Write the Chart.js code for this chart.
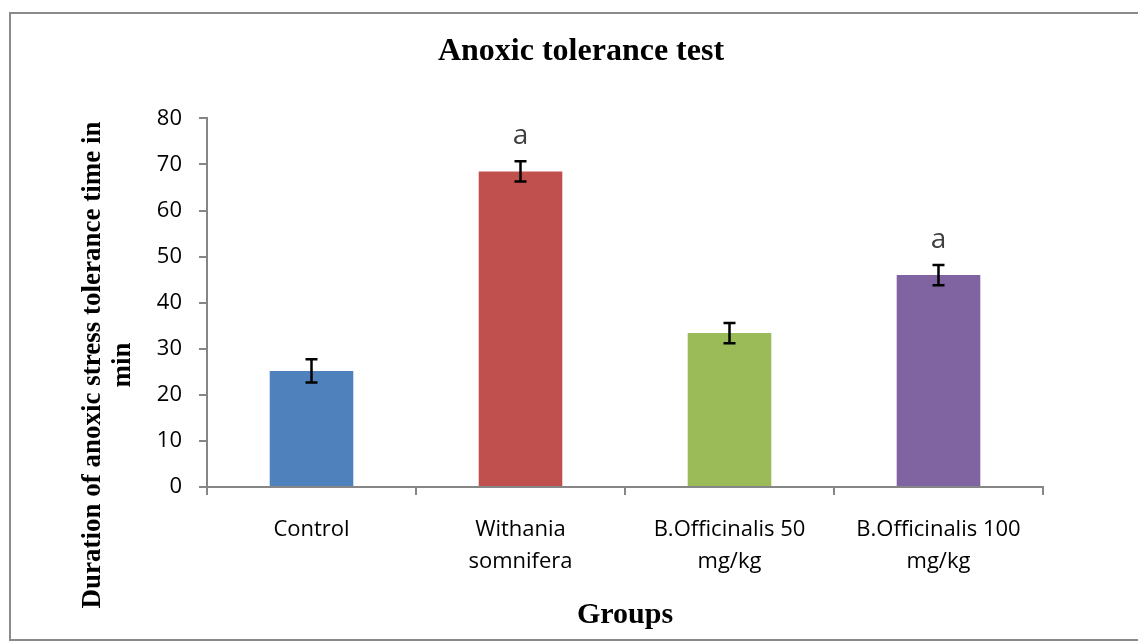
<!DOCTYPE html>
<html>
<head>
<meta charset="utf-8">
<script src="https://cdn.jsdelivr.net/npm/chart.js@4"></script>
<style>
  body { margin: 0; background: #fff; }
  #wrap { position: relative; width: 1138px; height: 643px; }
  #frame { position: absolute; left: 9px; top: 12px; width: 1140px; height: 629px; border: 2px solid #8a8a8a; box-sizing: border-box; pointer-events: none; }
</style>
</head>
<body>
<div id="wrap">
  <canvas id="chart" width="1138" height="643"></canvas>
  <div id="frame"></div>
</div>
<script>
// values
var groups = [["Control"], ["Withania", "somnifera"], ["B.Officinalis 50", "mg/kg"], ["B.Officinalis 100", "mg/kg"]];
var durations = [25.2, 68.5, 33.4, 46.0];
var errors = [2.5, 2.2, 2.2, 2.2];
var marks = ["", "a", "", "a"];
var colors = ["#4F81BD", "#C0504D", "#9BBB59", "#8064A2"];
var yTicks = [0, 10, 20, 30, 40, 50, 60, 70, 80];

var axisColor = "#868686";

// error bars + significance letters
var errorBars = {
  id: "errorBars",
  afterDatasetsDraw: function(chart) {
    var ctx = chart.ctx;
    var x = chart.scales.x, y = chart.scales.y;
    ctx.save();
    ctx.strokeStyle = "#000";
    ctx.lineWidth = 2.5;
    for (var i = 0; i < durations.length; i++) {
      var cx = x.getPixelForValue(i);
      var top = y.getPixelForValue(durations[i] + errors[i]);
      var bot = y.getPixelForValue(durations[i] - errors[i]);
      ctx.beginPath();
      ctx.moveTo(cx, top); ctx.lineTo(cx, bot);
      ctx.moveTo(cx - 6, top); ctx.lineTo(cx + 6, top);
      ctx.moveTo(cx - 6, bot); ctx.lineTo(cx + 6, bot);
      ctx.stroke();
      if (marks[i]) {
        ctx.fillStyle = "#404040";
        ctx.font = "28px 'Open Sans'";
        ctx.textAlign = "center";
        ctx.textBaseline = "middle";
        ctx.fillText(marks[i], cx, top - 25);
      }
    }
    ctx.restore();
  }
};

// y axis title (sits lower than the plot centre, as in the original)
var yTitle = {
  id: "yTitle",
  afterDraw: function(chart) {
    var ctx = chart.ctx;
    ctx.save();
    ctx.fillStyle = "#000";
    ctx.font = "bold 27px 'Liberation Serif'";
    ctx.textAlign = "center";
    ctx.textBaseline = "middle";
    ctx.translate(93, 365);
    ctx.rotate(-Math.PI / 2);
    ctx.fillText("Duration of anoxic stress tolerance time in", 0, 0);
    ctx.fillText("min", 0, 30);
    ctx.restore();
  }
};

var ctx = document.getElementById("chart");

var chart = new Chart(ctx, {
  type: "bar",
  data: {
    labels: groups,
    datasets: [{
      data: durations,
      backgroundColor: colors,
      borderWidth: 0,
      barPercentage: 0.4,
      categoryPercentage: 1.0
    }]
  },
  options: {
    responsive: false,
    animation: false,
    layout: { padding: { left: 119, right: 95, top: 0, bottom: 0 } },
    plugins: {
      legend: { display: false },
      tooltip: { enabled: false },
      title: {
        display: true,
        text: "Anoxic tolerance test",
        color: "#000",
        font: { family: "'Liberation Serif'", size: 32, weight: "bold" },
        padding: { top: 33, bottom: 47 }
      }
    },
    scales: {
      x: {
        grid: { display: true, drawOnChartArea: false, color: axisColor, tickLength: 8, lineWidth: 2 },
        border: { color: axisColor, width: 2 },
        ticks: { color: "#000", font: { family: "'Open Sans'", size: 22, lineHeight: 1.45 }, padding: 19, maxRotation: 0, autoSkip: false },
        title: {
          display: true,
          text: "Groups",
          color: "#000",
          font: { family: "'Liberation Serif'", size: 30, weight: "bold" },
          padding: { top: 0, bottom: 10 }
        },
        afterFit: function(scale) { scale.height = 156; }
      },
      y: {
        min: 0,
        max: 80,
        afterBuildTicks: function(scale) { scale.ticks = yTicks.map(function(v) { return { value: v }; }); },
        grid: { display: true, drawOnChartArea: false, color: axisColor, tickLength: 8, lineWidth: 2 },
        border: { color: axisColor, width: 2 },
        ticks: { color: "#000", font: { family: "'Open Sans'", size: 22 }, padding: 17 },
        afterFit: function(scale) { scale.width = 88; }
      }
    }
  },
  plugins: [errorBars, yTitle]
});
</script>
</body>
</html>
